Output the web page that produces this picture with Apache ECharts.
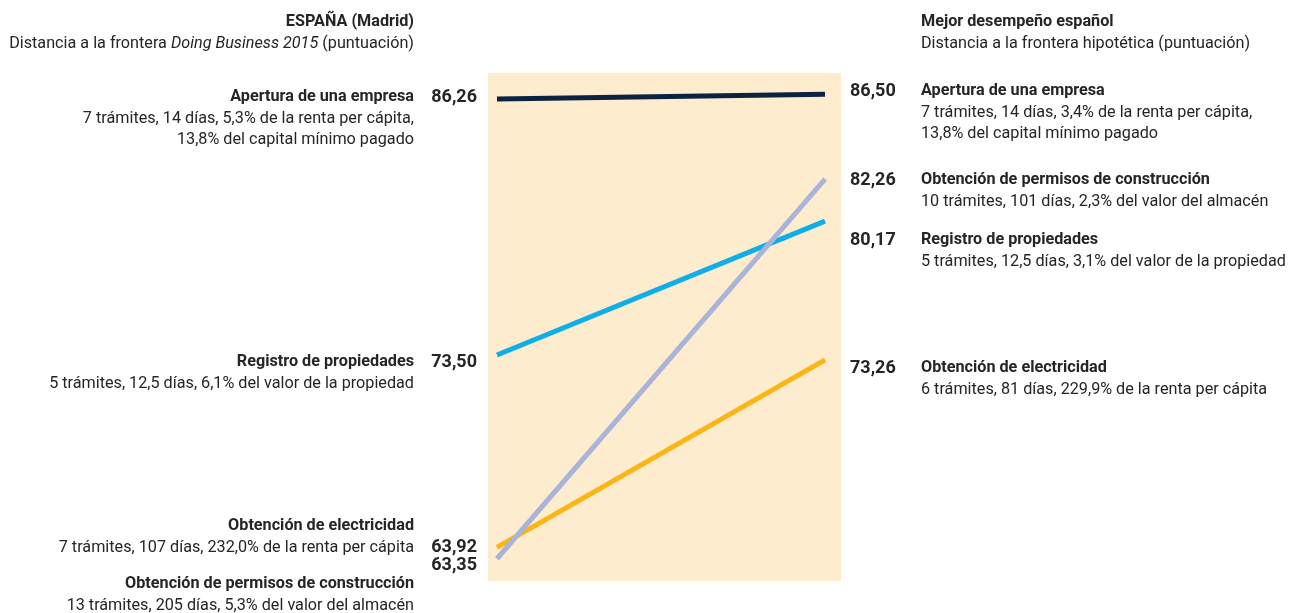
<!DOCTYPE html>
<html><head><meta charset="utf-8">
<script src="https://cdn.jsdelivr.net/npm/echarts@6/dist/echarts.min.js"></script>
<style>html,body{margin:0;padding:0;background:#fff}#c{width:1289px;height:613px}</style>
</head><body><div id="c"></div>
<script>
// ---- data ----
const indicators = ['Apertura de una empresa', 'Registro de propiedades', 'Obtención de electricidad', 'Obtención de permisos de construcción'];
const espanaValues = [86.26, 73.50, 63.92, 63.35];
const mejorValues = [86.50, 80.17, 73.26, 82.26];
const espanaDetails = [
  ['7 trámites, 14 días, 5,3% de la renta per cápita,', '13,8% del capital mínimo pagado'],
  ['5 trámites, 12,5 días, 6,1% del valor de la propiedad'],
  ['7 trámites, 107 días, 232,0% de la renta per cápita'],
  ['13 trámites, 205 días, 5,3% del valor del almacén']
];
const mejorDetails = [
  ['7 trámites, 14 días, 3,4% de la renta per cápita,', '13,8% del capital mínimo pagado'],
  ['5 trámites, 12,5 días, 3,1% del valor de la propiedad'],
  ['6 trámites, 81 días, 229,9% de la renta per cápita'],
  ['10 trámites, 101 días, 2,3% del valor del almacén']
];
const leftHeader = ['ESPAÑA (Madrid)', 'Distancia a la frontera {i|Doing Business 2015} (puntuación)'];
const rightHeader = ['Mejor desempeño español', 'Distancia a la frontera hipotética (puntuación)'];

// ---- styling / layout ----
const lineColors = ['#0b2341', '#10aee9', '#fbb616', '#a9b4d8'];
const seriesZ = [5, 2, 3, 4];
const FONT = 'Roboto, "Noto Sans", sans-serif';
const FS = 16.2;
const LH = 21.5;
const textColor = '#262424';
const leftTextX = 414, rightTextX = 921;
const leftValX = 477, rightValX = 850;
const leftLabelY = [97, 362, 526, 584];
const leftValueY = [97, 362, 547, 565];
const rightLabelY = [91, 240, 368, 180];

const fmt = v => v.toFixed(2).replace('.', ',');

function txt(x, y, s, align, bold, extra) {
  return {
    type: 'text', silent: true, z: 100,
    style: Object.assign({
      x: x, y: y, text: s, textAlign: align, textVerticalAlign: 'middle',
      fill: textColor, fontFamily: FONT, fontSize: FS, fontWeight: bold ? 'bold' : 'normal'
    }, extra || {})
  };
}

const graphics = [];
graphics.push(txt(leftTextX, 22, leftHeader[0], 'right', true));
graphics.push(txt(leftTextX, 44, leftHeader[1], 'right', false, {rich: {i: {fontStyle: 'italic', fontFamily: FONT, fontSize: FS, fill: textColor}}}));
graphics.push(txt(rightTextX, 22, rightHeader[0], 'left', true));
graphics.push(txt(rightTextX, 44, rightHeader[1], 'left', false));

indicators.forEach((name, i) => {
  graphics.push(txt(leftTextX, leftLabelY[i], name, 'right', true));
  espanaDetails[i].forEach((d, k) => graphics.push(txt(leftTextX, leftLabelY[i] + LH * (k + 1), d, 'right', false)));
  graphics.push(txt(leftValX, leftValueY[i], fmt(espanaValues[i]), 'right', true, {fontSize: 18}));
  graphics.push(txt(rightTextX, rightLabelY[i], name, 'left', true));
  mejorDetails[i].forEach((d, k) => graphics.push(txt(rightTextX, rightLabelY[i] + LH * (k + 1), d, 'left', false)));
  graphics.push(txt(rightValX, rightLabelY[i], fmt(mejorValues[i]), 'left', true, {fontSize: 18}));
});

const series = indicators.map((name, i) => ({
  type: 'line', name: name, z: seriesZ[i],
  data: [[0, espanaValues[i]], [1, mejorValues[i]]],
  symbol: 'none', silent: true,
  lineStyle: {color: lineColors[i], width: 5, cap: 'butt'}
}));

const chart = echarts.init(document.getElementById('c'), null, {renderer: 'canvas'});
chart.setOption({
  animation: false,
  backgroundColor: '#ffffff',
  grid: {left: 488, width: 353, top: 73, height: 508, show: true, backgroundColor: '#feecce', borderWidth: 0},
  xAxis: {type: 'value', min: -0.0274, max: 1.0488, show: false},
  yAxis: {type: 'value', min: 62.241, max: 87.553, show: false},
  series: series,
  graphic: graphics
});
</script>
</body></html>
